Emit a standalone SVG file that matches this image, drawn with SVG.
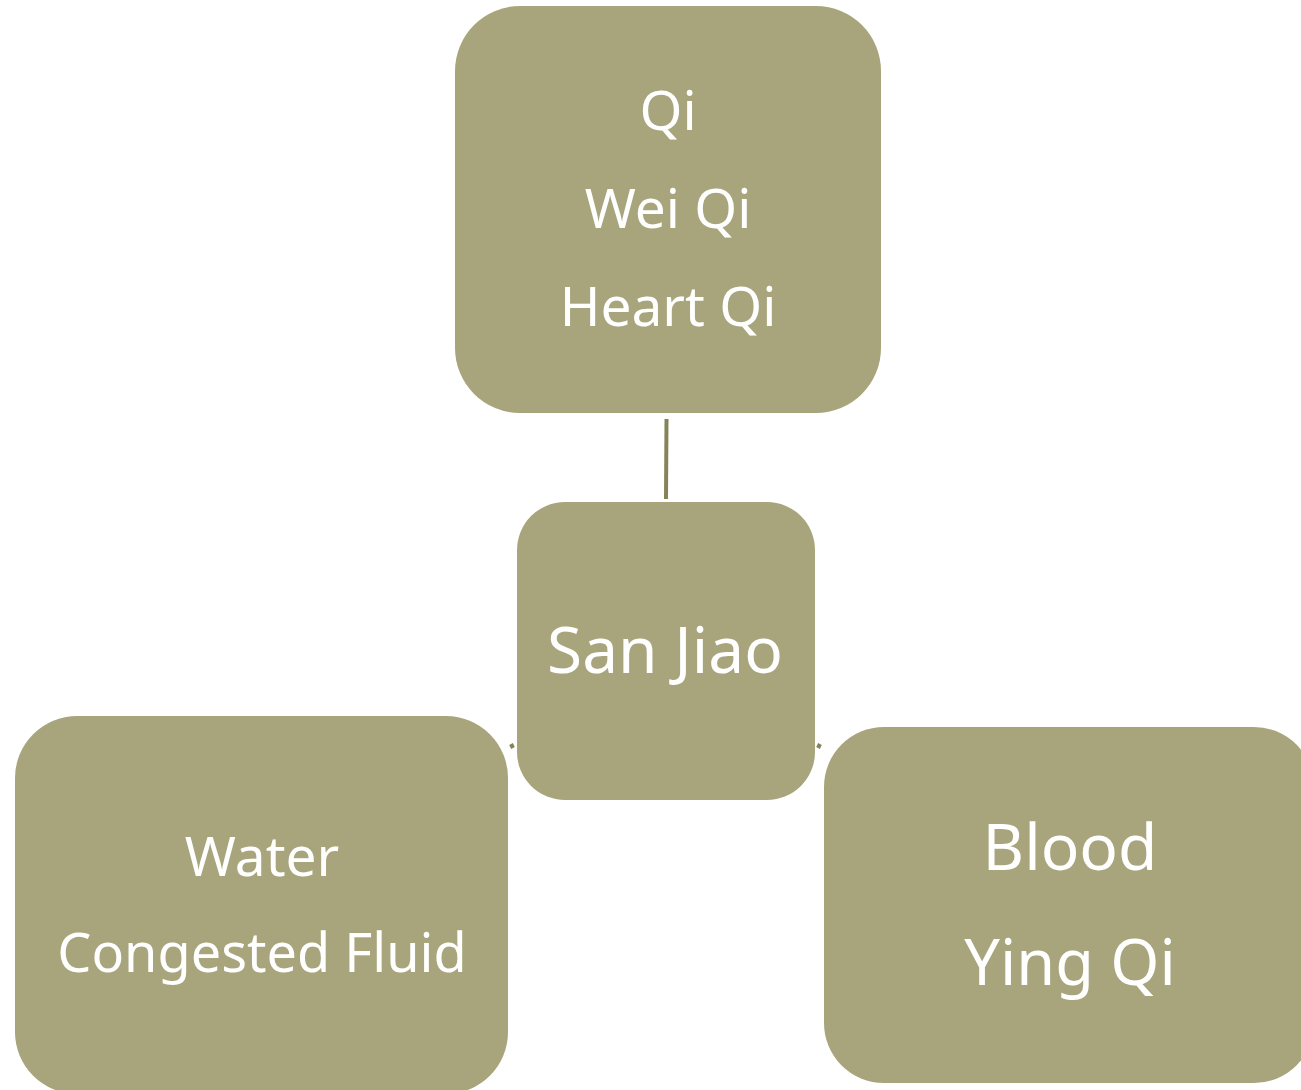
<svg xmlns="http://www.w3.org/2000/svg" width="1301" height="1090" viewBox="0 0 1301 1090">
<style>
.box{fill:#a8a57c;}
.t{fill:#ffffff;font-family:"Noto Sans","Open Sans",sans-serif;text-anchor:middle;}
.m{font-size:55px;}
.l{font-size:64px;}
.c{stroke:#868359;stroke-width:4;fill:none;}
</style>
<rect width="1301" height="1090" fill="#ffffff"/>
<g id="connectors">
<line class="c" x1="666.5" y1="419" x2="666" y2="499"/>
<line class="c" x1="511" y1="744" x2="513" y2="748" stroke-width="3"/>
<line class="c" x1="820" y1="744" x2="818" y2="748" stroke-width="3"/>
</g>
<g id="node-top">
<rect class="box" x="455" y="6" width="426" height="407" rx="65" ry="65"/>
<text class="t m" x="668" y="130">Qi</text>
<text class="t m" x="668" y="228">Wei Qi</text>
<text class="t m" x="668" y="326">Heart Qi</text>
</g>
<g id="node-center">
<rect class="box" x="517" y="502" width="298" height="298" rx="48" ry="48"/>
<text class="t l" x="665" y="673">San Jiao</text>
</g>
<g id="node-left">
<rect class="box" x="15" y="716" width="493" height="378" rx="62" ry="62"/>
<text class="t m" x="262" y="876">Water</text>
<text class="t m" x="262" y="972" style="font-size:54px">Congested Fluid</text>
</g>
<g id="node-right">
<rect class="box" x="824" y="727" width="490" height="356" rx="60" ry="60"/>
<text class="t l" x="1070" y="870">Blood</text>
<text class="t l" x="1070" y="985" style="font-size:63px">Ying Qi</text>
</g>
</svg>
